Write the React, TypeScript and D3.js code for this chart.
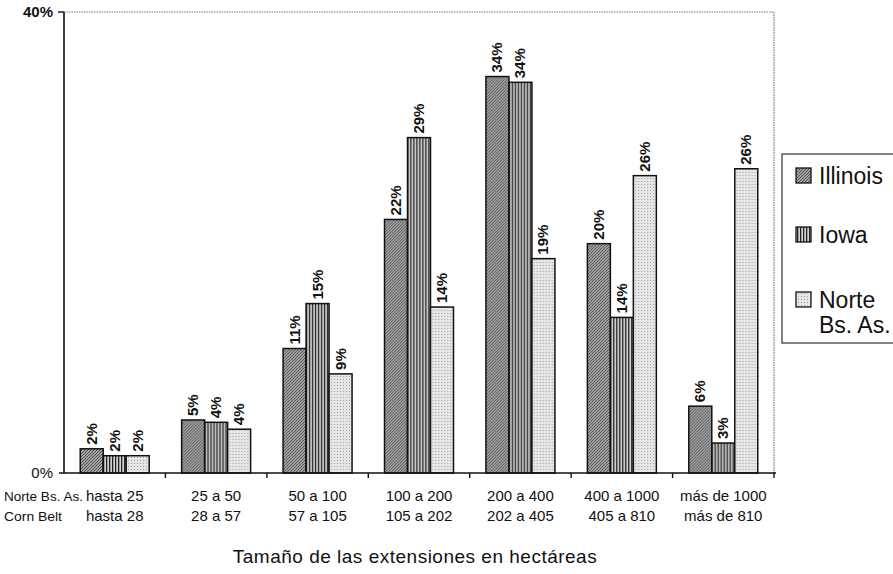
import React, { useEffect, useRef } from 'react';
import * as d3 from 'd3';

// Categories (two rows of range labels)
const rangesNorte = ['hasta 25', '25 a 50', '50 a 100', '100 a 200', '200 a 400', '400 a 1000', 'más de 1000'];
const rangesCornBelt = ['hasta 28', '28 a 57', '57 a 105', '105 a 202', '202 a 405', '405 a 810', 'más de 810'];

const seriesNames = ['Illinois', 'Iowa', 'Norte Bs. As.'];
const illinois = [2.1, 4.6, 10.8, 22.0, 34.4, 19.9, 5.8];
const iowa = [1.5, 4.4, 14.7, 29.1, 33.9, 13.5, 2.6];
const norte = [1.5, 3.8, 8.6, 14.4, 18.6, 25.8, 26.4];
const yTicks = [0, 40];

const FONT = '"Liberation Sans", Arial, Helvetica, sans-serif';

const App = () => {
  const svgRef = useRef<SVGSVGElement | null>(null);

  useEffect(() => {
    document.body.style.margin = '0';
    if (!svgRef.current) return;
    d3.select(svgRef.current).selectAll('*').remove();

    const width = 893;
    const height = 574;
    const svg = d3.select(svgRef.current).attr('width', width).attr('height', height);

    svg.append('rect').attr('width', width).attr('height', height).attr('fill', '#fff');

    // patterns for the three series
    const defs = svg.append('defs');
    const p1 = defs.append('pattern').attr('id', 'pIll').attr('patternUnits', 'userSpaceOnUse')
      .attr('width', 3).attr('height', 3);
    p1.append('rect').attr('width', 3).attr('height', 3).attr('fill', '#a4a4a4');
    p1.append('path').attr('d', 'M0,3 L3,0 M-1,1 L1,-1 M2,4 L4,2').attr('stroke', '#444').attr('stroke-width', 0.9);

    const p2 = defs.append('pattern').attr('id', 'pIowa').attr('patternUnits', 'userSpaceOnUse')
      .attr('width', 3).attr('height', 3);
    p2.append('rect').attr('width', 3).attr('height', 3).attr('fill', '#d4d4d4');
    p2.append('rect').attr('x', 0).attr('width', 1.3).attr('height', 3).attr('fill', '#222');

    const p3 = defs.append('pattern').attr('id', 'pNorte').attr('patternUnits', 'userSpaceOnUse')
      .attr('width', 3).attr('height', 3);
    p3.append('rect').attr('width', 3).attr('height', 3).attr('fill', '#e6e6e6');
    p3.append('rect').attr('x', 1).attr('y', 1).attr('width', 1).attr('height', 1).attr('fill', '#a0a0a0');

    const fills = ['url(#pIll)', 'url(#pIowa)', 'url(#pNorte)'];

    const margin = { left: 64, top: 12, right: 119, bottom: 101 };
    const chartW = width - margin.left - margin.right;
    const chartH = height - margin.top - margin.bottom;

    const x0 = d3.scaleBand<number>().domain(d3.range(rangesNorte.length)).range([0, chartW]);
    const x1 = d3.scaleBand<number>().domain([0, 1, 2])
      .range([x0.bandwidth() * 0.16, x0.bandwidth() * 0.84]);
    const y = d3.scaleLinear().domain([0, 40]).range([chartH, 0]);

    const g = svg.append('g').attr('transform', `translate(${margin.left},${margin.top})`);

    // dotted top and right frame
    g.append('path')
      .attr('d', `M0,0 H${chartW} V${chartH}`)
      .attr('fill', 'none').attr('stroke', '#777').attr('stroke-width', 1.2)
      .attr('stroke-dasharray', '1.5,1');

    const data = [illinois, iowa, norte];
    const groups = g.selectAll('.grp').data(d3.range(rangesNorte.length)).enter().append('g')
      .attr('transform', (i) => `translate(${x0(i)},0)`);

    groups.each(function (i) {
      const grp = d3.select(this);
      data.forEach((series, s) => {
        const v = series[i];
        const bx = x1(s) as number;
        grp.append('rect')
          .attr('x', bx).attr('y', y(v))
          .attr('width', x1.bandwidth()).attr('height', chartH - y(v))
          .attr('fill', fills[s]).attr('stroke', '#111').attr('stroke-width', 1.5);
        grp.append('text')
          .attr('transform', `translate(${bx + x1.bandwidth() / 2 + 5},${y(v) - 4}) rotate(-90)`)
          .attr('font-family', FONT).attr('font-weight', 'bold').attr('font-size', 15)
          .attr('fill', '#111')
          .text(`${Math.round(v)}%`);
      });
    });

    // axes
    g.append('line').attr('x1', 0).attr('x2', 0).attr('y1', 0).attr('y2', chartH)
      .attr('stroke', '#111').attr('stroke-width', 1.6);
    g.append('line').attr('x1', -5).attr('x2', chartW + 2).attr('y1', chartH).attr('y2', chartH)
      .attr('stroke', '#111').attr('stroke-width', 1.6);
    g.selectAll('.tk').data(d3.range(1, rangesNorte.length + 1)).enter().append('line')
      .attr('x1', (i) => i * x0.step()).attr('x2', (i) => i * x0.step())
      .attr('y1', chartH).attr('y2', chartH + 5)
      .attr('stroke', '#111').attr('stroke-width', 1.4);
    g.append('line').attr('x1', -6).attr('x2', 0).attr('y1', 0).attr('y2', 0)
      .attr('stroke', '#111').attr('stroke-width', 1.4);

    g.selectAll('.yl').data(yTicks).enter().append('text')
      .attr('x', -11).attr('y', (d) => y(d) + 5)
      .attr('text-anchor', 'end')
      .attr('font-family', FONT).attr('font-size', 15).attr('fill', '#111')
      .attr('font-weight', (d) => (d === 40 ? 'bold' : 'normal'))
      .text((d) => `${d}%`);

    // category labels
    const cx = (i: number) => (x0(i) as number) + x0.bandwidth() / 2;
    g.selectAll('.c1').data(rangesNorte).enter().append('text')
      .attr('x', (_, i) => cx(i)).attr('y', chartH + 28)
      .attr('text-anchor', 'middle').attr('font-family', FONT).attr('font-size', 15).attr('fill', '#111')
      .text((d) => d);
    g.selectAll('.c2').data(rangesCornBelt).enter().append('text')
      .attr('x', (_, i) => cx(i)).attr('y', chartH + 48)
      .attr('text-anchor', 'middle').attr('font-family', FONT).attr('font-size', 15).attr('fill', '#111')
      .text((d) => d);

    svg.append('text').attr('x', 4).attr('y', margin.top + chartH + 28)
      .attr('font-family', FONT).attr('font-size', 13).attr('fill', '#111')
      .attr('textLength', 79).attr('lengthAdjust', 'spacingAndGlyphs')
      .text('Norte Bs. As.');
    svg.append('text').attr('x', 4).attr('y', margin.top + chartH + 48)
      .attr('font-family', FONT).attr('font-size', 13).attr('fill', '#111')
      .attr('textLength', 58).attr('lengthAdjust', 'spacingAndGlyphs')
      .text('Corn Belt');

    svg.append('text').attr('x', 415).attr('y', 563)
      .attr('text-anchor', 'middle').attr('font-family', FONT).attr('font-size', 19).attr('fill', '#111')
      .attr('letter-spacing', 0.5)
      .text('Tamaño de las extensiones en hectáreas');

    // legend
    const lg = svg.append('g').attr('transform', 'translate(782,154)');
    lg.append('rect').attr('x', 0).attr('y', 0).attr('width', 130).attr('height', 189)
      .attr('fill', '#fff').attr('stroke', '#333').attr('stroke-width', 1.2);
    const legY = [30, 89, 154];
    seriesNames.forEach((name, s) => {
      lg.append('rect').attr('x', 14).attr('y', legY[s] - 16).attr('width', 15).attr('height', 15)
        .attr('fill', fills[s]).attr('stroke', '#111').attr('stroke-width', 1.3);
      const words = s === 2 ? ['Norte', 'Bs. As.'] : [name];
      words.forEach((w, k) => {
        lg.append('text').attr('x', 37).attr('y', legY[s] + k * 25)
          .attr('font-family', FONT).attr('font-size', 23).attr('fill', '#111')
          .text(w);
      });
    });
  }, []);

  return <svg ref={svgRef} style={{ display: 'block' }}></svg>;
};

export default App;
